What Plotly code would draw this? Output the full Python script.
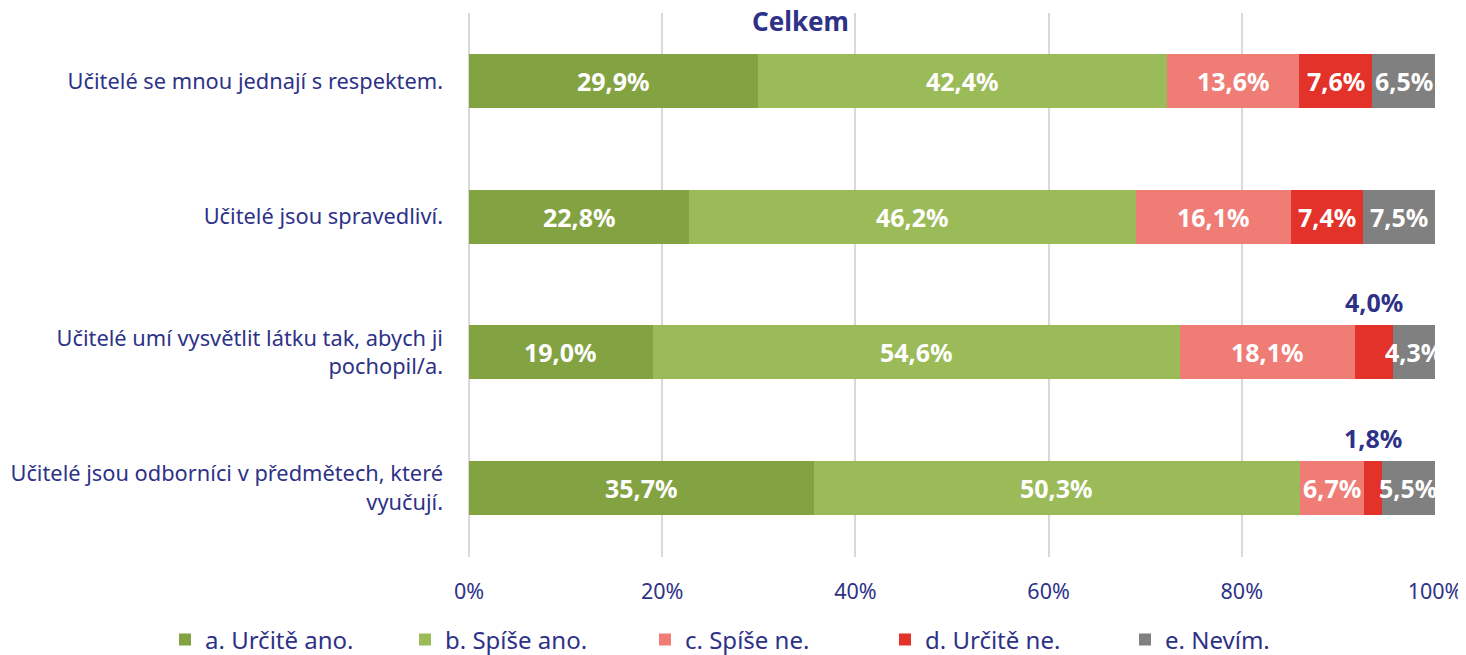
import plotly.graph_objects as go

categories = [
    "Učitelé se mnou jednají s respektem.",
    "Učitelé jsou spravedliví.",
    "Učitelé umí vysvětlit látku tak, abych ji<br>pochopil/a.",
    "Učitelé jsou odborníci v předmětech, které<br>vyučují.",
]
series_names = ["a. Určitě ano.", "b. Spíše ano.", "c. Spíše ne.", "d. Určitě ne.", "e. Nevím."]
a_vals = [29.9, 22.8, 19.0, 35.7]
b_vals = [42.4, 46.2, 54.6, 50.3]
c_vals = [13.6, 16.1, 18.1, 6.7]
d_vals = [7.6, 7.4, 4.0, 1.8]
e_vals = [6.5, 7.5, 4.3, 5.5]
colors = ["#83A242", "#9BBB59", "#F07C76", "#E3322A", "#808080"]
tick_vals = [0, 20, 40, 60, 80, 100]
tick_text = ["0%", "20%", "40%", "60%", "80%", "100%"]

NAVY = "#2E3287"
FONT = "Noto Sans"

def fmt(v):
    return f"{v:.1f}".replace(".", ",") + "%"

all_vals = [a_vals, b_vals, c_vals, d_vals, e_vals]
fig = go.Figure()
for name, vals, col in zip(series_names, all_vals, colors):
    fig.add_trace(go.Bar(
        y=categories, x=vals, name=name, orientation="h",
        marker=dict(color=col, line=dict(width=0)),
        hoverinfo="x+name",
    ))

annotations = []
for i, cat in enumerate(categories):
    cum = 0
    for s, vals in enumerate(all_vals):
        v = vals[i]
        mid = cum + v / 2
        cum += v
        if v < 5 and s == 3:
            annotations.append(dict(
                x=mid, y=cat, xref="x", yref="y", text="<b>" + fmt(v) + "</b>",
                showarrow=False, yshift=50, font=dict(family=FONT, size=25, color=NAVY),
            ))
        else:
            annotations.append(dict(
                x=mid, y=cat, xref="x", yref="y", text="<b>" + fmt(v) + "</b>",
                showarrow=False, font=dict(family=FONT, size=25, color="white"),
            ))

annotations.append(dict(
    x=(800 - 469) / 966, y=1 - 8 / 544, xref="paper", yref="paper", text="<b>Celkem</b>",
    showarrow=False, yanchor="middle", font=dict(family=FONT, size=26, color=NAVY),
))

fig.update_layout(
    barmode="stack",
    bargap=0.603,
    width=1458, height=647,
    margin=dict(l=461, r=31, t=5, b=98, autoexpand=False),
    paper_bgcolor="white", plot_bgcolor="white",
    font=dict(family=FONT, color=NAVY),
    showlegend=True,
    legend=dict(
        orientation="h", xref="paper", yref="paper",
        x=(157 - 461) / 966, xanchor="left", y=-(632 - 549) / 544, yanchor="middle",
        entrywidth=195, entrywidthmode="pixels",
        font=dict(family=FONT, size=24, color=NAVY), traceorder="normal",
    ),
    annotations=annotations,
    xaxis=dict(
        range=[0, 100], tickvals=tick_vals, ticktext=tick_text,
        showgrid=True, gridcolor="#D9D9D9", gridwidth=2,
        zeroline=True, zerolinecolor="#D9D9D9", zerolinewidth=2,
        showline=False, ticks="", ticklabelstandoff=19, automargin=False,
        ticklabeloverflow="allow",
        tickfont=dict(family=FONT, size=21.5, color=NAVY),
        fixedrange=True,
    ),
    yaxis=dict(
        categoryorder="array", categoryarray=categories, autorange="reversed",
        showgrid=False, ticks="", ticklabelstandoff=25, automargin=False,
        tickfont=dict(family=FONT, size=21.8, color=NAVY),
        fixedrange=True,
    ),
)

fig.write_html("out.html")
